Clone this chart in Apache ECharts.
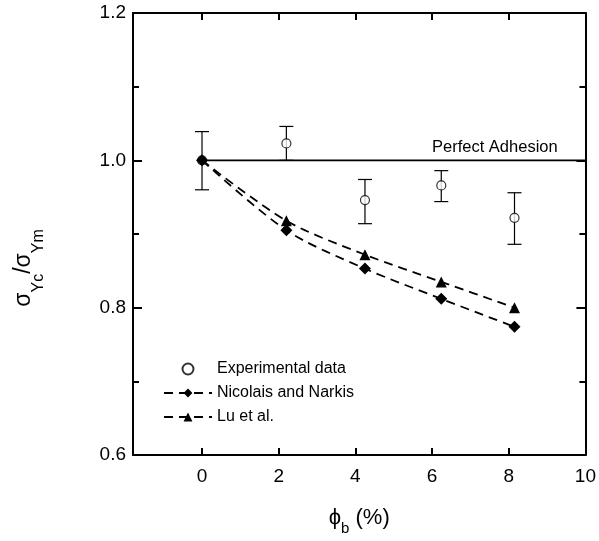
<!DOCTYPE html>
<html><head><meta charset="utf-8">
<script src="https://cdn.jsdelivr.net/npm/echarts@6/dist/echarts.min.js"></script>
<style>html,body{margin:0;padding:0;background:#fff}#c{width:599px;height:541px}</style>
</head><body><div id="c"></div>
<script>
// ---- data ----
const phi = [0, 2.2, 4.25, 6.24, 8.15];
const expMean = [1.0, 1.023, 0.946, 0.966, 0.922];
const expLow = [0.960, 1.000, 0.914, 0.944, 0.886];
const expHigh = [1.039, 1.046, 0.974, 0.986, 0.956];
const nicolais = [1.0, 0.905, 0.853, 0.812, 0.774];
const lu = [1.0, 0.918, 0.872, 0.835, 0.800];
const adhesionX = [0, 10];
const adhesionY = [1.0, 1.0];
const xTicks = [0, 2, 4, 6, 8, 10];
const seriesNames = ['Experimental data', 'Nicolais and Narkis', 'Lu et al.'];

const font = '"Liberation Sans", Arial, sans-serif';
const chart = echarts.init(document.getElementById('c'), null, {renderer: 'canvas'});

const errData = phi.map((x, i) => [x, expLow[i], expHigh[i]]);
const expData = phi.map((x, i) => [x, expMean[i]]);
const nicData = phi.map((x, i) => [x, nicolais[i]]);
const luData = phi.map((x, i) => i === 0 ? {value: [x, lu[i]], symbol: 'none'} : [x, lu[i]]);
const adhData = adhesionX.map((x, i) => [x, adhesionY[i]]);

const axisLine = {show: true, onZero: false, lineStyle: {color: '#000', width: 2}};
const tickStyle = {color: '#000', width: 2};

const option = {
  animation: false,
  backgroundColor: '#fff',
  grid: {left: 133, right: 12, top: 13, bottom: 80},
  xAxis: [{
    type: 'value', min: -1.8, max: 10, position: 'bottom',
    axisLine: axisLine,
    axisTick: {show: true, inside: true, length: 7, customValues: xTicks, lineStyle: tickStyle},
    axisLabel: {customValues: xTicks, fontSize: 19, fontFamily: font, color: '#000', margin: 12},
    splitLine: {show: false},
    name: '{a|ϕ}{b|b}{a| (%)}', nameLocation: 'middle', nameGap: 52,
    nameTextStyle: {
      rich: {
        a: {fontSize: 22, fontFamily: font, color: '#000', lineHeight: 26, verticalAlign: 'top'},
        b: {fontSize: 15, fontFamily: font, color: '#000', lineHeight: 15, padding: [14, 0, 0, 0], verticalAlign: 'top'}
      }
    }
  }, {
    type: 'value', min: -1.8, max: 10, position: 'top',
    axisLine: axisLine,
    axisTick: {show: true, inside: true, length: 7, customValues: xTicks, lineStyle: tickStyle},
    axisLabel: {show: false},
    splitLine: {show: false}
  }],
  yAxis: [{
    type: 'value', min: 0.6, max: 1.2, interval: 0.2, position: 'left',
    axisLine: axisLine,
    axisTick: {show: true, inside: true, length: 9, lineStyle: tickStyle},
    minorTick: {show: true, splitNumber: 2, length: 6, lineStyle: tickStyle},
    axisLabel: {fontSize: 19, fontFamily: font, color: '#000', margin: 7, formatter: v => v.toFixed(1)},
    splitLine: {show: false}, minorSplitLine: {show: false}
  }, {
    type: 'value', min: 0.6, max: 1.2, interval: 0.2, position: 'right',
    axisLine: axisLine,
    axisTick: {show: true, inside: true, length: 9, lineStyle: tickStyle},
    minorTick: {show: true, splitNumber: 2, length: 6, lineStyle: tickStyle},
    axisLabel: {show: false},
    splitLine: {show: false}
  }],
  legend: {
    data: seriesNames,
    orient: 'vertical', left: 158, top: 356,
    itemWidth: 48, itemHeight: 11, itemGap: 8,
    textStyle: {fontSize: 16, fontFamily: font, color: '#000'},
    selectedMode: false
  },
  graphic: [{
    type: 'text', left: 432, top: 139, silent: true,
    style: {text: 'Perfect Adhesion', fontSize: 16.5, fontFamily: font, fill: '#000'}
  }, {
    type: 'text', x: 12, y: 268, rotation: Math.PI / 2, silent: true,
    style: {
      text: '{a|σ}{b|Yc}{a|/σ}{b|Ym}', align: 'center', verticalAlign: 'top',
      rich: {
        a: {fontSize: 23, fontFamily: font, fill: '#000', lineHeight: 26, verticalAlign: 'top'},
        b: {fontSize: 16, fontFamily: font, fill: '#000', lineHeight: 16, padding: [19, 0, 0, 0], verticalAlign: 'top'}
      }
    }
  }],
  series: [{
    name: 'errorbars', type: 'custom', data: errData, z: 1,
    encode: {x: 0, y: [1, 2]},
    renderItem: function (params, api) {
      const x = api.value(0);
      const lo = api.coord([x, api.value(1)]);
      const hi = api.coord([x, api.value(2)]);
      const hw = 7;
      const st = {stroke: '#000', lineWidth: 1.2};
      return {type: 'group', children: [
        {type: 'line', shape: {x1: lo[0], y1: lo[1], x2: hi[0], y2: hi[1]}, style: st},
        {type: 'line', shape: {x1: lo[0] - hw, y1: lo[1], x2: lo[0] + hw, y2: lo[1]}, style: st},
        {type: 'line', shape: {x1: hi[0] - hw, y1: hi[1], x2: hi[0] + hw, y2: hi[1]}, style: st}
      ]};
    }
  }, {
    name: 'Experimental data', type: 'scatter', data: expData, z: 2,
    symbol: 'circle', symbolSize: 9,
    itemStyle: {color: '#fff', borderColor: '#000', borderWidth: 1.2}
  }, {
    name: 'Perfect Adhesion', type: 'line', data: adhData, z: 3,
    symbol: 'none', lineStyle: {color: '#000', width: 1.8}
  }, {
    name: 'Lu et al.', type: 'line', data: luData, z: 4, smooth: 0.3,
    symbol: 'triangle', symbolSize: 11,
    itemStyle: {color: '#000'},
    lineStyle: {color: '#000', width: 1.8, type: [9, 6]}
  }, {
    name: 'Nicolais and Narkis', type: 'line', data: nicData, z: 5, smooth: 0.3,
    symbol: 'diamond', symbolSize: 12,
    itemStyle: {color: '#000'},
    lineStyle: {color: '#000', width: 1.8, type: [9, 6]}
  }]
};
chart.setOption(option);
</script>
</body></html>
